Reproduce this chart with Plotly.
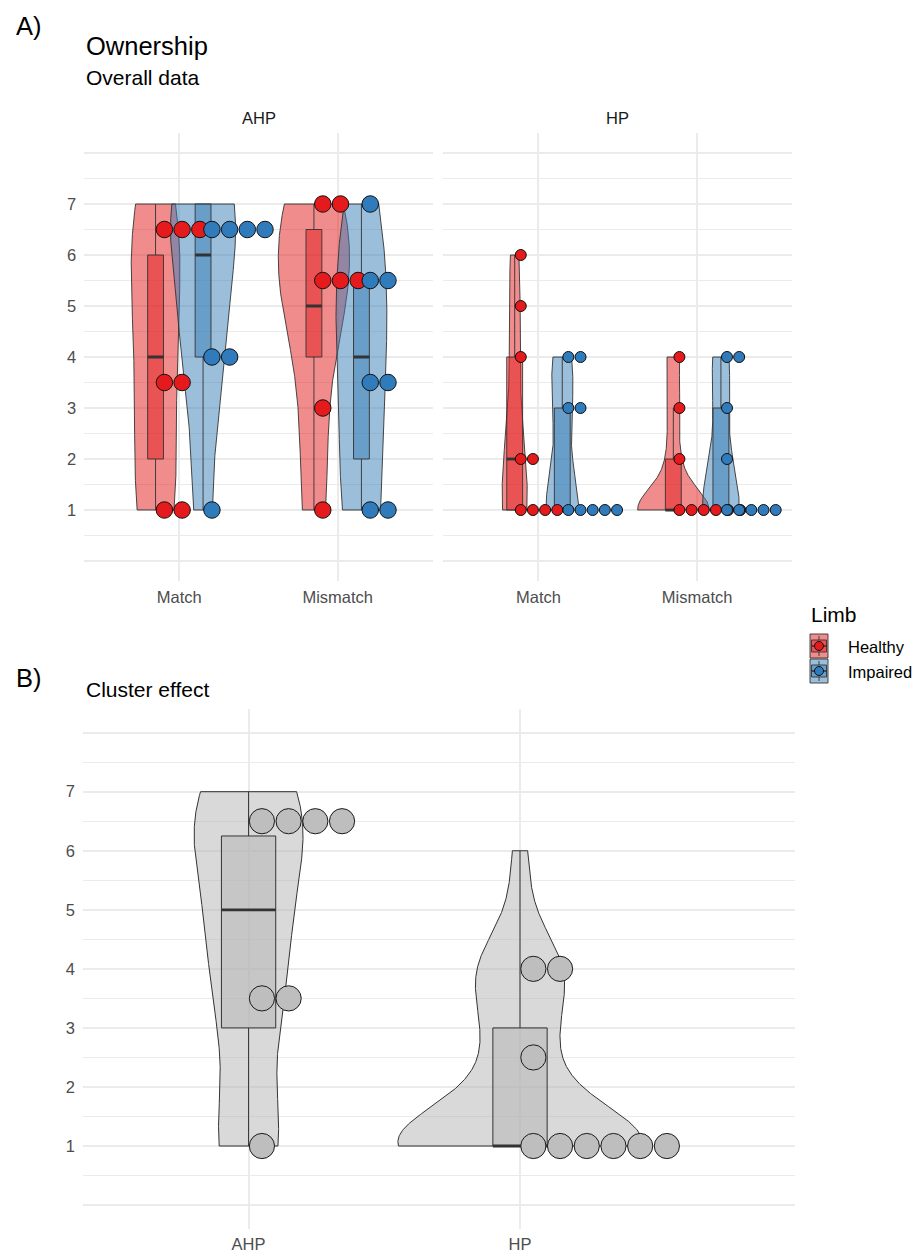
import numpy as np
import plotly.graph_objects as go

W, H = 914, 1252
FONT = "Liberation Sans, Arial, Helvetica, sans-serif"

# ---------------- data ----------------
conditions = ["Match", "Mismatch"]
limbs = ["Healthy", "Impaired"]
facets = ["AHP", "HP"]
y_ticks = [0, 1, 2, 3, 4, 5, 6, 7, 8]
y_tick_text = ["", "1", "2", "3", "4", "5", "6", "7", ""]

# Ownership ratings per participant (panel A)
ahp_match_healthy = [1, 1, 3, 4, 6, 6, 7]
ahp_match_impaired = [1, 4, 4, 6, 7, 7, 7]
ahp_mismatch_healthy = [1, 3, 5, 5, 6, 7, 7]
ahp_mismatch_impaired = [1, 1, 3, 4, 5, 6, 7]
hp_match_healthy = [1, 1, 1, 1, 2, 2, 4, 5, 6]
hp_match_impaired = [1, 1, 1, 1, 1, 3, 3, 4, 4]
hp_mismatch_healthy = [1, 1, 1, 1, 1, 1, 2, 3, 4]
hp_mismatch_impaired = [1, 1, 1, 1, 1, 2, 3, 4, 4]

# cluster-level values shown as dots in panel B
cluster_ahp_dots = [1, 3.5, 3.5, 6.5, 6.5, 6.5, 6.5]
cluster_hp_dots = [1, 1, 1, 1, 1, 1, 2.5, 4, 4]

# ---------------- styles ----------------
fill_col = {"Healthy": (228, 26, 28), "Impaired": (55, 126, 184)}
dot_col = {"Healthy": "#E41A1C", "Impaired": "#2F7BBB"}
grey = (179, 179, 179)
OUT = "#333333"


def rgba(c, a):
    return "rgba(%d,%d,%d,%.3f)" % (c[0], c[1], c[2], a)


# ---------------- stats ----------------
def bw_nrd0(x):
    x = np.asarray(x, float)
    hi = np.std(x, ddof=1)
    q75, q25 = np.percentile(x, [75, 25])
    lo = min(hi, (q75 - q25) / 1.34)
    if lo == 0:
        lo = hi if hi else (abs(x[0]) if x[0] else 1.0)
    return 0.9 * lo * len(x) ** -0.2


def kde(x, n=512):
    x = np.asarray(x, float)
    bw = bw_nrd0(x)
    g = np.linspace(x.min(), x.max(), n)
    d = np.exp(-0.5 * ((g[:, None] - x[None, :]) / bw) ** 2).sum(1) / (len(x) * bw * np.sqrt(2 * np.pi))
    return g, d


def box_stats(x):
    x = np.asarray(x, float)
    q1, med, q3 = np.percentile(x, [25, 50, 75])
    iqr = q3 - q1
    lo = x[x >= q1 - 1.5 * iqr].min()
    hi = x[x <= q3 + 1.5 * iqr].max()
    return q1, med, q3, lo, hi


def densitybin(x, bw):
    bins, end = [], -np.inf
    for v in sorted(x):
        if v >= end - 1e-9:
            bins.append([v])
            end = v + bw
        else:
            bins[-1].append(v)
    return [((b[0] + b[-1]) / 2.0, len(b)) for b in bins]


fig = go.Figure()


def poly(xs, ys, fill, line_col, lw, ax):
    fig.add_trace(go.Scatter(x=list(xs), y=list(ys), mode="lines", fill="toself",
                             fillcolor=fill, line=dict(color=line_col, width=lw),
                             xaxis=ax[0], yaxis=ax[1], showlegend=False, hoverinfo="skip"))


def seg(xs, ys, col, lw, ax):
    fig.add_trace(go.Scatter(x=xs, y=ys, mode="lines", line=dict(color=col, width=lw),
                             xaxis=ax[0], yaxis=ax[1], showlegend=False, hoverinfo="skip"))


def draw_violins(groups, half_max, ax, lw=0.9):
    dens = [kde(v) for v, _, _ in groups]
    mx = max(d.max() for _, d in dens)
    for (vals, cx, col), (g, d) in zip(groups, dens):
        hw = d / mx * half_max
        xs = np.concatenate([cx - hw, (cx + hw)[::-1], [cx - hw[0]]])
        ys = np.concatenate([g, g[::-1], [g[0]]])
        poly(xs, ys, col, OUT, lw, ax)


def draw_boxes(groups, bw, ax, lw=0.9):
    for vals, cx, col in groups:
        q1, med, q3, lo, hi = box_stats(vals)
        seg([cx, cx], [q3, hi], OUT, lw, ax)
        seg([cx, cx], [q1, lo], OUT, lw, ax)
        poly([cx - bw / 2, cx + bw / 2, cx + bw / 2, cx - bw / 2, cx - bw / 2],
             [q1, q1, q3, q3, q1], col, OUT, lw, ax)
        seg([cx - bw / 2, cx + bw / 2], [med, med], OUT, 2.8, ax)


def draw_dots(groups, binw, step, size, ax, edge="#111111"):
    for vals, cx, col in groups:
        xs, ys = [], []
        for yc, cnt in densitybin(vals, binw):
            for k in range(cnt):
                xs.append(cx + (k + 0.5) * step)
                ys.append(yc)
        fig.add_trace(go.Scatter(x=xs, y=ys, mode="markers",
                                 marker=dict(size=size, color=col, line=dict(color=edge, width=1)),
                                 xaxis=ax[0], yaxis=ax[1], showlegend=False, hoverinfo="skip"))


# ---------------- panel A ----------------
panelA = {
    "AHP": [ahp_match_healthy, ahp_match_impaired, ahp_mismatch_healthy, ahp_mismatch_impaired],
    "HP": [hp_match_healthy, hp_match_impaired, hp_mismatch_healthy, hp_mismatch_impaired],
}
dodge = {"Healthy": -0.15, "Impaired": 0.15}
binwidths = {"AHP": 1.5, "HP": 1.0}
dot_px = {"AHP": 17.7, "HP": 12.2}
unit_px = {"AHP": 158.4, "HP": 159.0}
axes = {"AHP": ("x", "y"), "HP": ("x2", "y2")}

for f in facets:
    data = panelA[f]
    vg, bg, dg = [], [], []
    i = 0
    for ci, c in enumerate(conditions):
        for l in limbs:
            cx = ci + 1 + dodge[l]
            vg.append((data[i], cx, rgba(fill_col[l], 0.5)))
            bg.append((data[i], cx, rgba(fill_col[l], 0.5)))
            dg.append((data[i], cx, dot_col[l]))
            i += 1
    draw_violins(vg, 0.225, axes[f])
    draw_boxes(bg, 0.1, axes[f])
    draw_dots(dg, binwidths[f], dot_px[f] / unit_px[f], dot_px[f] - 1.2, axes[f])

# ---------------- panel B ----------------
pooled_ahp = ahp_match_healthy + ahp_match_impaired + ahp_mismatch_healthy + ahp_mismatch_impaired
pooled_hp = hp_match_healthy + hp_match_impaired + hp_mismatch_healthy + hp_mismatch_impaired
axB = ("x3", "y3")
gB = [(pooled_ahp, 1, rgba(grey, 0.5)), (pooled_hp, 2, rgba(grey, 0.5))]
draw_violins(gB, 0.45, axB, lw=1.0)
draw_boxes(gB, 0.2, axB, lw=1.0)
draw_dots([(cluster_ahp_dots, 1, "#BEBEBE"), (cluster_hp_dots, 2, "#BEBEBE")],
          0.5, 26.7 / 271.4, 25.2, axB, edge="#1A1A1A")

# ---------------- axes ----------------
GRID = "#EBEBEB"


def px_x(a, b):
    return [a / W, b / W]


def px_y(top, bottom):
    return [1 - bottom / H, 1 - top / H]


tickfont = dict(family=FONT, size=16.5, color="#4D4D4D")
xcommon = dict(showgrid=True, gridcolor=GRID, gridwidth=1.8, zeroline=False, showline=False,
               ticks="", tickfont=tickfont, ticklabelstandoff=4, fixedrange=True)
ycommon = dict(range=[-0.4, 8.4], tickmode="array", tickvals=y_ticks, ticktext=y_tick_text,
               showgrid=True, gridcolor=GRID, gridwidth=1.8, zeroline=False, showline=False,
               ticks="", tickfont=tickfont, ticklabelstandoff=7,
               minor=dict(tickmode="linear", tick0=0, dtick=0.5, showgrid=True,
                          gridcolor=GRID, gridwidth=1.2, ticks=""), fixedrange=True)

fig.update_layout(
    width=W, height=H, margin=dict(l=0, r=0, t=0, b=0),
    paper_bgcolor="white", plot_bgcolor="white", showlegend=False,
    xaxis=dict(domain=px_x(84.3, 432.7), range=[0.4, 2.6], tickmode="array", tickvals=[1, 2],
               ticktext=conditions, anchor="y", **xcommon),
    xaxis2=dict(domain=px_x(443.3, 792.3), range=[0.4, 2.6], tickmode="array", tickvals=[1, 2],
                ticktext=conditions, anchor="y2", **xcommon),
    xaxis3=dict(domain=px_x(83, 794.7), range=[0.39, 3.012], tickmode="array", tickvals=[1, 2],
                ticktext=facets, anchor="y3", **xcommon),
    yaxis=dict(domain=px_y(132.6, 581.4), anchor="x", **ycommon),
    yaxis2=dict(domain=px_y(132.6, 581.4), anchor="x2", showticklabels=False,
                **{k: v for k, v in ycommon.items() if k != "tickfont"}),
    yaxis3=dict(domain=px_y(709, 1228.7), anchor="x3", **ycommon),
)


# ---------------- texts ----------------
def text(s, xpx, ypx, size, color="#000000", xanchor="left"):
    fig.add_annotation(text=s, x=xpx / W, y=1 - ypx / H, xref="paper", yref="paper",
                       xanchor=xanchor, yanchor="middle", showarrow=False,
                       font=dict(family=FONT, size=size, color=color))


text("A)", 14, 26, 25.5)
text("Ownership", 84, 46, 25.5)
text("Overall data", 84, 78, 21)
text("AHP", (84.3 + 432.7) / 2, 118, 16.5, "#1A1A1A", "center")
text("HP", (443.3 + 792.3) / 2, 118, 16.5, "#1A1A1A", "center")
text("B)", 14, 678, 25.5)
text("Cluster effect", 84, 689, 21)

# ---------------- legend ----------------
text("Limb", 809, 614, 21)
for l, cy, lab in [("Healthy", 646, "Healthy"), ("Impaired", 671, "Impaired")]:
    x0, x1 = 810, 828
    y0, y1 = cy - 12, cy + 12

    def R(a, b, c, d, fill, lw=0.9):
        fig.add_shape(type="rect", xref="paper", yref="paper", x0=a / W, x1=b / W,
                      y0=1 - d / H, y1=1 - c / H, fillcolor=fill,
                      line=dict(color=OUT, width=lw), layer="above")

    def L(a, b, c, d, lw=0.9):
        fig.add_shape(type="line", xref="paper", yref="paper", x0=a / W, x1=b / W,
                      y0=1 - c / H, y1=1 - d / H, line=dict(color=OUT, width=lw), layer="above")

    R(x0, x1, y0, y1, rgba(fill_col[l], 0.5))
    xm = (x0 + x1) / 2
    L(xm, xm, y0 + 2, cy - 6)
    L(xm, xm, cy + 6, y1 - 2)
    R(x0 + 1.5, x1 - 1.5, cy - 6, cy + 6, rgba(fill_col[l], 0.5))
    L(x0 + 1.5, x1 - 1.5, cy, cy, 1.6)
    fig.add_shape(type="circle", xref="paper", yref="paper", x0=(xm - 4.5) / W, x1=(xm + 4.5) / W,
                  y0=1 - (cy + 4.5) / H, y1=1 - (cy - 4.5) / H, fillcolor=dot_col[l],
                  line=dict(color="#111111", width=1), layer="above")
    text(lab, 846, cy + 1, 16.5)

fig.write_html("out.html", config={"displayModeBar": False},
               post_script="document.body.style.margin='0';document.body.style.overflow='hidden';")
